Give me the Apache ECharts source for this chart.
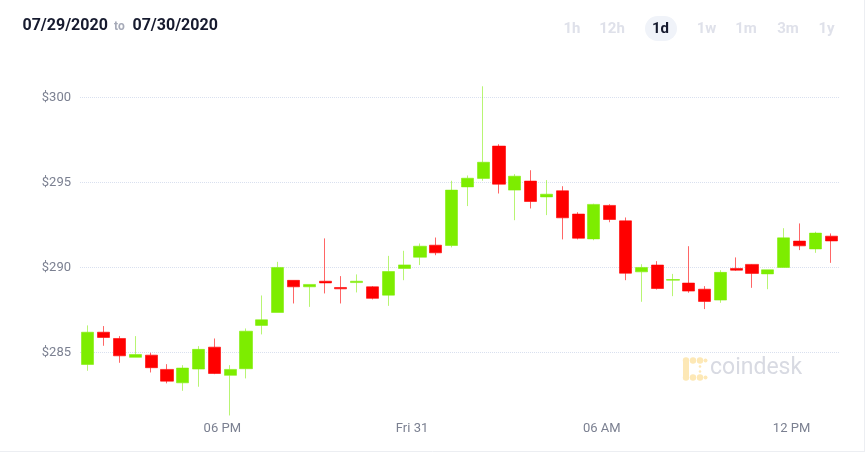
<!DOCTYPE html>
<html>
<head>
<meta charset="utf-8">
<script src="https://cdn.jsdelivr.net/npm/echarts@6/dist/echarts.min.js"></script>
<style>
  html, body { margin: 0; padding: 0; background: #fff; }
  #chart { width: 865px; height: 452px; }
</style>
</head>
<body>
<div id="chart"></div>
<script>
// candle open times (30 min candles)
const times = [
  '13:30', '14:00', '14:30', '15:00', '15:30', '16:00', '16:30', '17:00', '17:30', '18:00',
  '18:30', '19:00', '19:30', '20:00', '20:30', '21:00', '21:30', '22:00', '22:30', '23:00',
  '23:30', '00:00', '00:30', '01:00', '01:30', '02:00', '02:30', '03:00', '03:30', '04:00',
  '04:30', '05:00', '05:30', '06:00', '06:30', '07:00', '07:30', '08:00', '08:30', '09:00',
  '09:30', '10:00', '10:30', '11:00', '11:30', '12:00', '12:30', '13:00'
];
const opens = [
  284.29, 286.19, 285.82, 284.71, 284.84, 284.00, 283.21, 284.02, 285.31, 283.65,
  284.04, 286.59, 287.35, 289.24, 288.86, 289.19, 288.82, 289.11, 288.86, 288.37,
  289.94, 290.60, 291.31, 291.29, 294.74, 295.24, 297.14, 294.55, 295.08, 294.15,
  294.51, 293.14, 291.68, 293.65, 292.74, 289.74, 290.14, 289.25, 289.08, 288.72,
  288.08, 289.94, 290.18, 289.62, 290.00, 291.55, 291.09, 291.84
];
const closes = [
  286.19, 285.88, 284.80, 284.88, 284.10, 283.31, 284.08, 285.18, 283.76, 284.00,
  286.25, 286.92, 290.00, 288.86, 289.00, 289.09, 288.74, 289.19, 288.18, 289.76,
  290.15, 291.25, 290.86, 294.55, 295.25, 296.19, 294.90, 295.37, 293.88, 294.31,
  292.92, 291.72, 293.71, 292.82, 289.66, 290.00, 288.76, 289.29, 288.61, 288.00,
  289.71, 289.84, 289.65, 289.86, 291.74, 291.27, 292.02, 291.56
];
const lows = [
  283.92, 285.39, 284.39, 284.71, 283.82, 283.18, 282.74, 282.98, 283.72, 281.29,
  283.47, 286.06, 287.35, 287.88, 287.68, 288.47, 287.88, 288.53, 288.12, 287.74,
  289.25, 290.14, 290.72, 291.18, 293.61, 295.10, 294.35, 292.78, 293.47, 293.08,
  291.65, 291.65, 291.60, 292.66, 289.25, 287.98, 288.70, 288.31, 288.51, 287.55,
  287.92, 289.80, 288.80, 288.72, 290.00, 291.02, 290.86, 290.27
];
const highs = [
  286.59, 286.55, 285.96, 285.96, 284.98, 284.31, 284.25, 285.37, 285.82, 284.25,
  286.41, 288.35, 290.33, 289.24, 289.00, 291.71, 289.49, 289.59, 288.90, 290.68,
  290.98, 291.41, 291.76, 295.10, 295.41, 300.66, 297.25, 295.49, 295.72, 295.14,
  294.78, 293.25, 293.75, 293.72, 292.94, 290.19, 290.37, 289.62, 291.25, 288.90,
  289.84, 290.59, 290.20, 289.86, 292.31, 292.59, 292.10, 292.00
];
const xTickValues = [18, 24, 30, 36];
const xTickLabels = ['06 PM', 'Fri 31', '06 AM', '12 PM'];
const ranges = ['1h', '12h', '1d', '1w', '1m', '3m', '1y'];
const rangeX = [572, 612, 660.5, 706.5, 746, 788, 826.5];
const activeRange = '1d';

// hours on a continuous scale, candle drawn at its middle
const startHour = 13.5;
function toHour(s) {
  const [h, m] = s.split(':').map(Number);
  let v = h + m / 60;
  if (v < startHour) v += 24;
  return v + 0.25;
}

const candleData = times.map((t, i) => [toHour(t), opens[i], closes[i], lows[i], highs[i]]);

const chart = echarts.init(document.getElementById('chart'));

const rangeTexts = ranges.map((r, i) => ({
  type: 'text',
  style: {
    text: r, x: rangeX[i], y: 29.5,
    align: 'center', verticalAlign: 'middle',
    textAlign: 'center', textVerticalAlign: 'middle',
    font: 'bold 15px Roboto',
    fill: r === activeRange ? '#161a2e' : '#dfe1ea'
  },
  z: 10
}));

const logoColor = '#fde8b6';
const logo = [
  { type: 'rect', shape: { x: 683, y: 358, width: 6, height: 22, r: 3 }, style: { fill: logoColor } },
  { type: 'circle', shape: { cx: 686, cy: 360.5, r: 3.2 }, style: { fill: logoColor } },
  { type: 'circle', shape: { cx: 693, cy: 360.5, r: 3.2 }, style: { fill: logoColor } },
  { type: 'circle', shape: { cx: 700, cy: 360.5, r: 3.2 }, style: { fill: logoColor } },
  { type: 'circle', shape: { cx: 705.5, cy: 360.5, r: 2 }, style: { fill: logoColor } },
  { type: 'circle', shape: { cx: 686, cy: 377.5, r: 3.2 }, style: { fill: logoColor } },
  { type: 'circle', shape: { cx: 693, cy: 377.5, r: 3.2 }, style: { fill: logoColor } },
  { type: 'circle', shape: { cx: 700, cy: 377.5, r: 3.2 }, style: { fill: logoColor } },
  { type: 'circle', shape: { cx: 705.5, cy: 377.5, r: 2 }, style: { fill: logoColor } },
  { type: 'circle', shape: { cx: 700, cy: 366.5, r: 1.3 }, style: { fill: logoColor } },
  { type: 'circle', shape: { cx: 700, cy: 371.5, r: 1.3 }, style: { fill: logoColor } }
];

const option = {
  animation: false,
  backgroundColor: '#fff',
  grid: { left: 80, right: 26, top: 55, bottom: 35 },
  xAxis: {
    type: 'value',
    min: 13.5,
    max: 37.5,
    axisLine: { show: false },
    axisTick: { show: false },
    splitLine: { show: false },
    axisLabel: {
      customValues: xTickValues,
      formatter: v => xTickLabels[xTickValues.indexOf(v)] || '',
      color: '#7b8091',
      fontFamily: 'Roboto',
      fontSize: 13,
      margin: 5
    }
  },
  yAxis: {
    type: 'value',
    min: 281.2,
    max: 302.5,
    axisLine: { show: false },
    axisTick: { show: false },
    axisLabel: {
      formatter: v => '$' + v,
      color: '#7b8091',
      fontFamily: 'Roboto',
      fontSize: 13,
      margin: 9,
      showMinLabel: false,
      showMaxLabel: false
    },
    splitLine: {
      showMinLine: false,
      showMaxLine: false,
      lineStyle: { color: '#d9e0ef', type: 'dotted', width: 1 }
    }
  },
  graphic: [
    {
      type: 'text',
      style: { text: '07/29/2020', x: 22.5, y: 26, verticalAlign: 'middle', textVerticalAlign: 'middle', font: 'bold 16px Roboto', fill: '#161a2e' }
    },
    {
      type: 'text',
      style: { text: 'to', x: 114, y: 27, verticalAlign: 'middle', textVerticalAlign: 'middle', font: 'bold 12px Roboto', fill: '#a6aab8' }
    },
    {
      type: 'text',
      style: { text: '07/30/2020', x: 132.5, y: 26, verticalAlign: 'middle', textVerticalAlign: 'middle', font: 'bold 16px Roboto', fill: '#161a2e' }
    },
    { type: 'rect', shape: { x: 645, y: 16, width: 32, height: 25, r: 12.5 }, style: { fill: '#f0f3f9' }, z: 5 },
    ...rangeTexts,
    ...logo,
    {
      type: 'text',
      style: { text: 'coindesk', x: 710, y: 368, verticalAlign: 'middle', textVerticalAlign: 'middle', font: '23px Roboto', fill: '#d8dae2' }
    },
    { type: 'line', shape: { x1: 0, y1: 451.5, x2: 865, y2: 451.5 }, style: { stroke: '#eceef2', lineWidth: 1 } },
    { type: 'line', shape: { x1: 864.5, y1: 0, x2: 864.5, y2: 452 }, style: { stroke: '#eceef2', lineWidth: 1 } }
  ],
  series: [
    {
      type: 'candlestick',
      data: candleData,
      encode: { x: 0, y: [1, 2, 3, 4] },
      barWidth: '80%',
      itemStyle: {
        color: '#7ded00',
        color0: '#ff0000',
        borderColor: 'rgba(125, 237, 0, 0.55)',
        borderColor0: 'rgba(255, 0, 0, 0.6)',
        borderWidth: 1
      },
      emphasis: { disabled: true }
    }
  ]
};

chart.setOption(option);
</script>
</body>
</html>
